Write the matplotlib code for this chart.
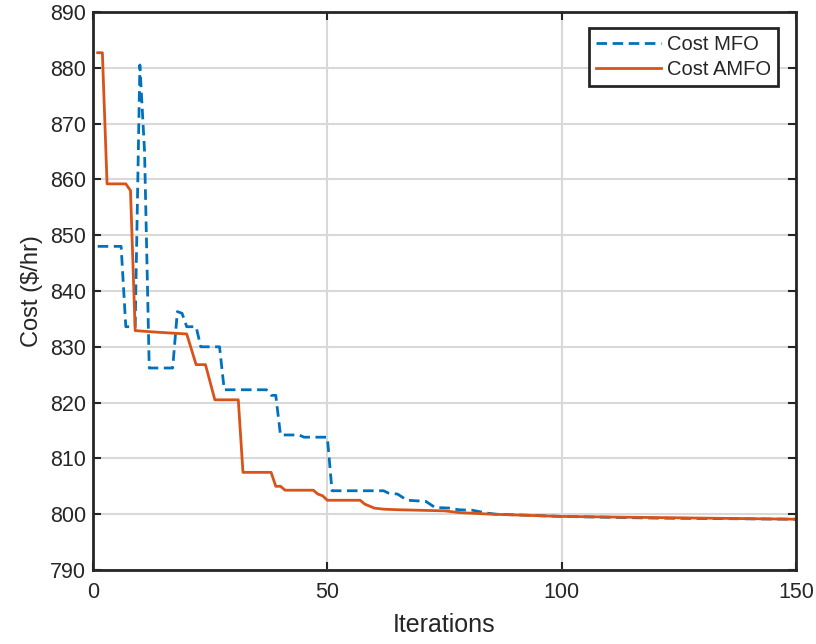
import matplotlib
matplotlib.use("Agg")
import matplotlib.pyplot as plt

# MFO convergence (iteration, cost) breakpoints
mfo_iter = [1, 6, 7, 9, 10, 11, 12, 17, 18, 19, 20, 22, 23, 27, 28, 37, 38, 39, 40, 44, 45, 50, 51,
            62, 63, 65, 67, 71, 73, 76, 78, 81, 84, 86, 100, 120, 150]
mfo_cost = [848.0, 848.0, 833.6, 833.6, 880.5, 865.0, 826.2, 826.2, 836.3, 836.0, 833.6, 833.6, 830.0,
            830.0, 822.3, 822.3, 821.3, 821.3, 814.2, 814.2, 813.8, 813.8, 804.2,
            804.2, 803.8, 803.6, 802.5, 802.3, 801.2, 801.1, 800.8, 800.7, 800.2, 800.0, 799.6, 799.3, 799.1]

# AMFO convergence (iteration, cost) breakpoints
amfo_iter = [1, 2, 3, 7, 8, 9, 14, 20, 22, 24, 26, 31, 32, 38, 39, 40, 41, 47, 48, 49, 50, 57, 58,
             60, 62, 65, 75, 78, 85, 100, 120, 150]
amfo_cost = [882.7, 882.7, 859.2, 859.2, 858.0, 832.9, 832.6, 832.3, 826.8, 826.8, 820.5, 820.5, 807.5,
             807.5, 805.0, 805.0, 804.3, 804.3, 803.6, 803.3, 802.5, 802.5, 801.8,
             801.1, 800.9, 800.8, 800.6, 800.3, 800.0, 799.6, 799.4, 799.1]

x_ticks = [0, 50, 100, 150]
y_ticks = [790, 800, 810, 820, 830, 840, 850, 860, 870, 880, 890]

plt.rcParams['font.family'] = ['Liberation Sans', 'DejaVu Sans']
txt = '#262626'

fig = plt.figure(figsize=(8.16, 6.44), dpi=100)
ax = fig.add_axes([93/816, 1-570/644, (796-93)/816, (570-12)/644])

ax.plot(mfo_iter, mfo_cost, '--', color='#0072BD', lw=2.0, label='Cost MFO',
        dashes=(3.8, 2.0))
ax.plot(amfo_iter, amfo_cost, '-', color='#D95319', lw=2.0, label='Cost AMFO')

ax.set_xlim(0, 150)
ax.set_ylim(790, 890)
ax.set_xticks(x_ticks)
ax.set_yticks(y_ticks)
ax.grid(True, color='#d9d9d9', lw=1.5)
ax.set_axisbelow(True)
ax.tick_params(direction='in', length=6, width=1.5, top=True, right=True,
               labelsize=15.5, colors=txt)
ax.tick_params(axis='x', pad=9)
ax.tick_params(axis='y', pad=5)
for s in ax.spines.values():
    s.set_linewidth(2)
    s.set_color(txt)

ax.set_xlabel('Iterations', fontsize=18, color=txt, labelpad=7)
ax.set_ylabel('Cost ($/hr)', fontsize=17, color=txt, labelpad=5)

leg = ax.legend(loc='upper right', bbox_to_anchor=(0.974, 0.971), fontsize=14.5,
                fancybox=False, framealpha=1, edgecolor='#262626', borderpad=0.35,
                handlelength=3.2, handletextpad=0.3, labelspacing=0.3, borderaxespad=0)
leg.get_frame().set_linewidth(2)
for t in leg.get_texts():
    t.set_color(txt)

fig.savefig('out.png', dpi=100)
